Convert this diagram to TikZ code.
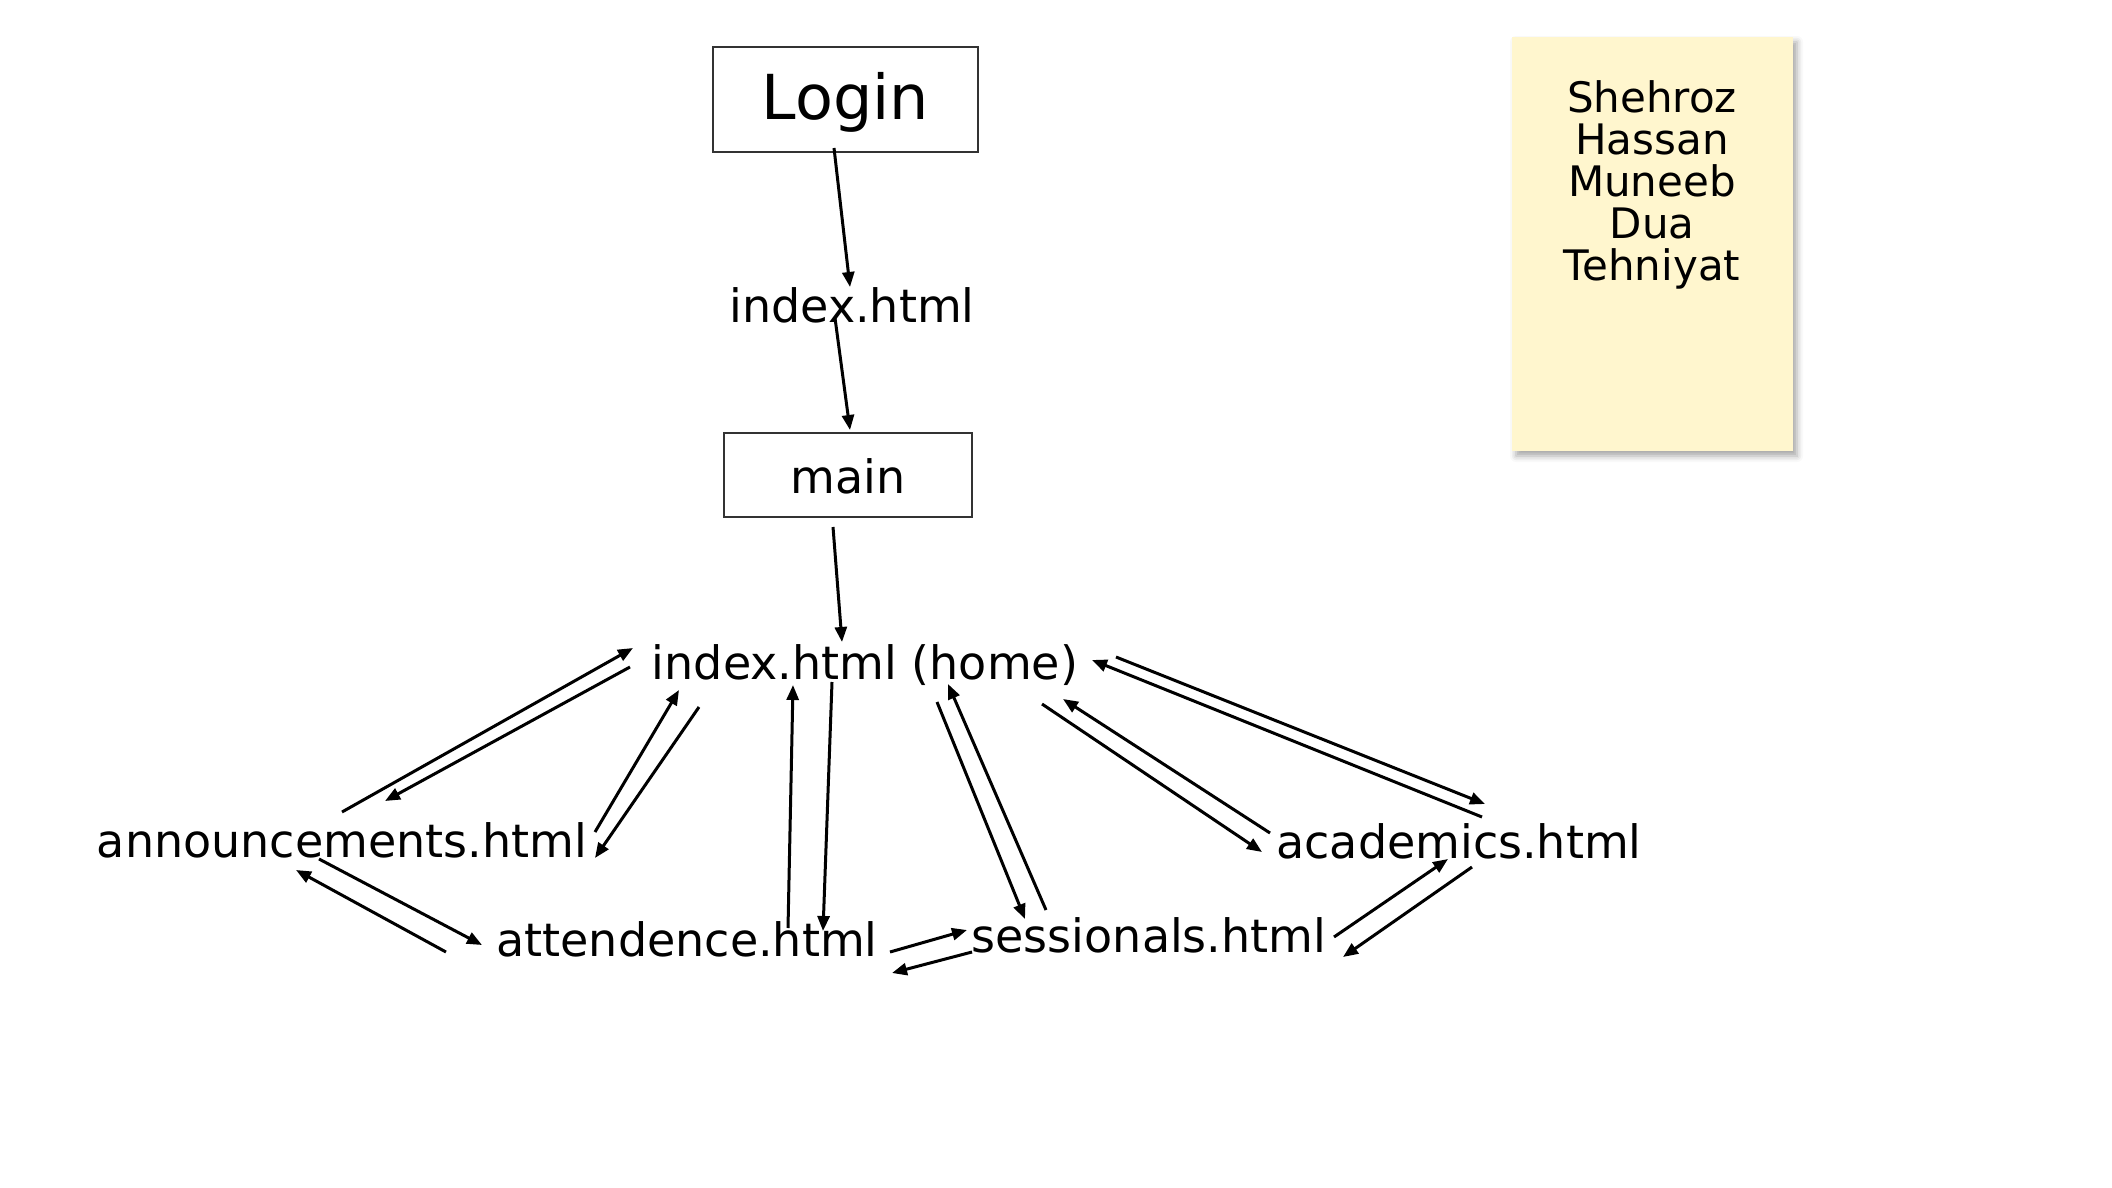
\documentclass[tikz,border=0pt]{standalone}
\usepackage{fontspec}
\setmainfont{DejaVu Sans}
\usetikzlibrary{arrows.meta,shadows.blur}
\definecolor{notefill}{RGB}{255,246,206}
\begin{document}
\begin{tikzpicture}[x=0.5pt,y=-0.5pt,
  lbl/.style={inner sep=0pt, anchor=base, font=\fontsize{23pt}{27pt}\selectfont},
  boxnode/.style={draw=black!80, line width=0.8pt, inner sep=0pt},
  arr/.style={line width=1.5pt, -{Triangle[length=7.5pt,width=6pt]}},
  note/.style={fill=notefill, draw=none, minimum width=140.5pt, minimum height=207pt,
    blur shadow={shadow xshift=2pt, shadow yshift=-2.5pt, shadow blur radius=3pt, shadow opacity=35}},
]
\useasboundingbox (0,0) rectangle (2112,1187);
% sticky note
\node[note] (note) at (1652.5,244) {};
\node[font=\fontsize{21pt}{21pt}\selectfont, align=center, inner sep=0pt, anchor=north] (names) at (1652,80) {Shehroz\\Hassan\\Muneeb\\Dua\\Tehniyat};
% nodes
\node[boxnode, minimum width=132.5pt, minimum height=52.5pt, font=\fontsize{31pt}{37pt}\selectfont, text height=20.5pt, text depth=0pt] (login) at (845.5,99.5) {Login};
\node[lbl] (idx) at (852,322) {index.html};
\node[boxnode, minimum width=124pt, minimum height=42pt, font=\fontsize{23pt}{27pt}\selectfont, text height=18pt, text depth=0pt] (main) at (848,475) {main};
\node[lbl] (home) at (865,679) {index.html (home)};
\node[lbl] (ann) at (342,857) {announcements.html};
\node[lbl] (att) at (687,956) {attendence.html};
\node[lbl] (sess) at (1149,952) {sessionals.html};
\node[lbl] (acad) at (1459,858) {academics.html};
% connectors
\draw[arr] ([shift={(-11.5,48.5)}]login.center) -- ([shift={(-2,-35)}]idx.base);
\draw[arr] ([shift={(-17,-4)}]idx.base) -- ([shift={(2,-45)}]main.center);
\draw[arr] ([shift={(-15,52)}]main.center) -- ([shift={(-23,-37)}]home.base);
\draw[arr] ([shift={(0,-45)}]ann.base) -- ([shift={(-232,-31)}]home.base);
\draw[arr] ([shift={(-235,-12)}]home.base) -- ([shift={(43,-56)}]ann.base);
\draw[arr] ([shift={(253,-25)}]ann.base) -- ([shift={(-186,11)}]home.base);
\draw[arr] ([shift={(-166,28)}]home.base) -- ([shift={(253,1)}]ann.base);
\draw[arr] ([shift={(101,-28)}]att.base) -- ([shift={(-72,6)}]home.base);
\draw[arr] ([shift={(-33,3)}]home.base) -- ([shift={(136,-25)}]att.base);
\draw[arr] ([shift={(72,23)}]home.base) -- ([shift={(-124,-33)}]sess.base);
\draw[arr] ([shift={(-103,-42)}]sess.base) -- ([shift={(83,5)}]home.base);
\draw[arr] ([shift={(177,25)}]home.base) -- ([shift={(-197,-6)}]acad.base);
\draw[arr] ([shift={(-189,-25)}]acad.base) -- ([shift={(198,20)}]home.base);
\draw[arr] ([shift={(23,-41)}]acad.base) -- ([shift={(227,-19)}]home.base);
\draw[arr] ([shift={(251,-22)}]home.base) -- ([shift={(26,-54)}]acad.base);
\draw[arr] ([shift={(185,-15)}]sess.base) -- ([shift={(-11,1)}]acad.base);
\draw[arr] ([shift={(13,9)}]acad.base) -- ([shift={(194,5)}]sess.base);
\draw[arr] ([shift={(203,-4)}]att.base) -- ([shift={(-182,-22)}]sess.base);
\draw[arr] ([shift={(-177,0)}]sess.base) -- ([shift={(205,17)}]att.base);
\draw[arr] ([shift={(-241,-4)}]att.base) -- ([shift={(-46,13)}]ann.base);
\draw[arr] ([shift={(-23,2)}]ann.base) -- ([shift={(-205,-11)}]att.base);
\end{tikzpicture}
\end{document}
